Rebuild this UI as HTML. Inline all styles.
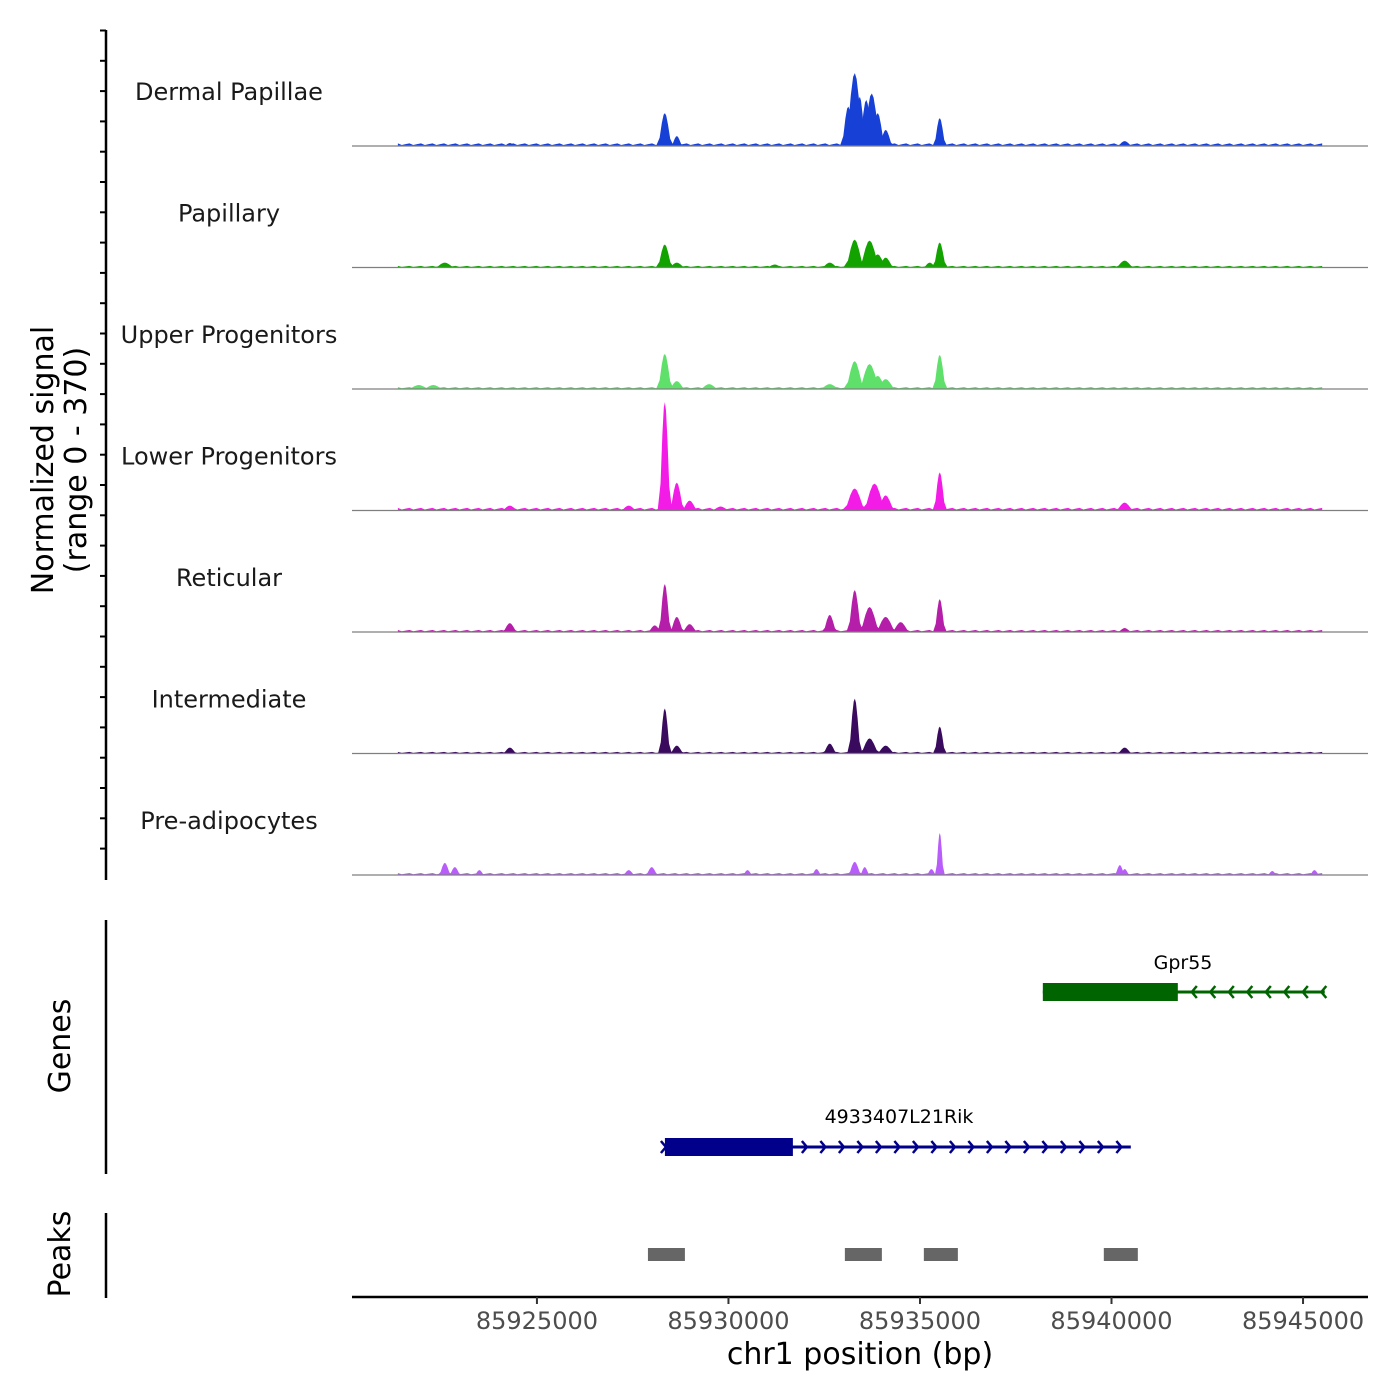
<!DOCTYPE html>
<html><head><meta charset="utf-8">
<style>
html,body{margin:0;padding:0;background:#fff;}
svg{display:block;font-family:"DejaVu Sans","Liberation Sans",sans-serif;}
</style></head>
<body>
<svg id="chart" width="1400" height="1400" viewBox="0 0 1400 1400" xmlns="http://www.w3.org/2000/svg">
<rect width="1400" height="1400" fill="#fff"/>
<g id="tracks"></g>
<g id="yaxis"></g>
<text transform="translate(53,460) rotate(-90)" text-anchor="middle" font-size="30" fill="#000">Normalized signal</text>
<text transform="translate(86,460) rotate(-90)" text-anchor="middle" font-size="30" fill="#000">(range 0 - 370)</text>
<line x1="106" y1="920" x2="106" y2="1174" stroke="#000" stroke-width="2.5"/>
<text transform="translate(70,1046) rotate(-90)" text-anchor="middle" font-size="30">Genes</text>
<g id="genes"></g>
<line x1="106" y1="1213" x2="106" y2="1298" stroke="#000" stroke-width="2.5"/>
<text transform="translate(70,1254) rotate(-90)" text-anchor="middle" font-size="30">Peaks</text>
<g id="peaks"></g>
<g id="xaxis"></g>
<text x="860" y="1364" text-anchor="middle" font-size="30">chr1 position (bp)</text>
</svg>
<script>
const trackNames = ["Dermal Papillae","Papillary","Upper Progenitors","Lower Progenitors","Reticular","Intermediate","Pre-adipocytes"];
const trackColors = ["#1640d6","#12a300","#5ee06a","#f21ce6","#b51ea8","#3a0a5e","#b85cfa"];
const peakPos = [
 [85928341,85928655,85933130,85933300,85933430,85933600,85933744,85933900,85934109,85935519,85940347,85924296],
 [85922599,85928341,85928655,85931212,85932648,85933300,85933690,85933900,85934109,85935258,85935519,85940347],
 [85921920,85922300,85928341,85928655,85929500,85932648,85933300,85933690,85933900,85934109,85935519],
 [85924296,85927400,85928341,85928655,85928990,85929800,85933300,85933820,85934109,85935519,85940347],
 [85924296,85928080,85928341,85928655,85928990,85932648,85933300,85933690,85934109,85934500,85935519,85940347],
 [85924296,85928341,85928655,85932648,85933300,85933690,85934109,85935519,85940347],
 [85922599,85922860,85923500,85927400,85928000,85930500,85932300,85933300,85933560,85935300,85935519,85940220,85940347,85944200,85945300]
];
const peakVals = [
 [100,30,120,222,150,140,160,100,49,85,15,9],
 [15,70,15,9,15,85,82,40,30,15,76,21],
 [12,12,107,24,15,15,85,76,40,30,104],
 [15,15,330,85,30,12,67,82,46,116,24],
 [27,20,146,46,24,52,128,76,46,30,100,12],
 [18,137,24,30,167,46,24,82,18],
 [37,24,15,15,24,15,18,40,24,18,128,30,18,12,15]
];
const peakWidth = [
 [230,180,220,300,200,230,300,230,220,190,230,180],
 [300,240,250,250,250,300,330,280,250,200,210,280],
 [340,320,230,250,280,300,300,340,280,300,200],
 [250,250,190,230,250,280,340,360,280,190,280],
 [230,220,190,220,240,220,220,320,320,280,180,220],
 [220,180,220,220,200,300,280,180,230],
 [190,180,150,180,190,150,150,210,150,150,130,160,150,150,150]
];
const bgLevel = [8,5,6,8,6,5,6];
const bgStart = 85921370, bgEnd = 85945500;
const peakStart = [85927898,85933039,85935101,85939799];
const peakEnd = [85928863,85934005,85935989,85940687];
const xTicks = [85925000,85930000,85935000,85940000,85945000];

const X0=352,X1=1368,BP0=85920172,BP1=85946696;
const xs = bp => X0+(bp-BP0)/(BP1-BP0)*(X1-X0);
const trackH=121.5, base0=146, maxV=370;
const ys = (i,v) => base0+i*trackH - v/maxV*trackH;
const NS="http://www.w3.org/2000/svg";
function mk(tag,attrs,parent){const e=document.createElementNS(NS,tag);for(const k in attrs)e.setAttribute(k,attrs[k]);parent.appendChild(e);return e;}

const tg=document.getElementById('tracks');
trackNames.forEach((name,i)=>{
  const g=mk('g',{},tg);
  
  
  const b=ys(i,0);
  let d='M'+xs(bgStart)+','+b;
  const step=(bgEnd-bgStart)/240;
  for(let k=0;k<=240;k++){
    const v=bgLevel[i]*((k%3===0)?1:(k%3===1?0.4:0.7));
    d+=' L'+xs(bgStart+k*step)+','+ys(i,v);
  }
  d+=' L'+xs(bgEnd)+','+b+' Z';
  const bg=mk('path',{d:d,fill:trackColors[i]},g);
  
  
  peakPos[i].forEach((p,j)=>{
    const h=peakVals[i][j], w=peakWidth[i][j];
    const pts=[[p-w,0],[p-w*0.6,h*0.25],[p-w*0.35,h*0.7],[p-w*0.15,h*0.95],[p,h],[p+w*0.15,h*0.92],[p+w*0.35,h*0.65],[p+w*0.6,h*0.22],[p+w,0]];
    const el=mk('polygon',{points:pts.map(q=>xs(q[0])+','+ys(i,q[1])).join(' '),fill:trackColors[i]},g);
    
    
  });
  const ln=mk('line',{x1:X0,x2:X1,y1:b,y2:b,stroke:'#7f7f7f','stroke-width':1.2},g);
  
  
  const t=mk('text',{x:229,y:b-46,'text-anchor':'middle','font-size':'24',fill:'#1a1a1a'},g);
  t.textContent=name;
  
  
});

const ya=document.getElementById('yaxis');
mk('line',{x1:106,x2:106,y1:30,y2:880,stroke:'#000','stroke-width':2.5},ya);
for(let y=30;y<=878;y+=30.3){
  const tk=mk('line',{x1:100,x2:106,y1:y+0.5,y2:y+0.5,stroke:'#000','stroke-width':2},ya);
  
  
}

const gg=document.getElementById('genes');
function gene(name,start,end,cStart,cEnd,y,color,dir,labelX,labelY){
  const g=mk('g',{},gg);
  
  
  mk('line',{x1:xs(start),x2:xs(end),y1:y,y2:y,stroke:color,'stroke-width':3},g);
  mk('rect',{x:xs(cStart),y:y-9,width:xs(cEnd)-xs(cStart),height:18,fill:color},g);
  for(let x=xs(cEnd)+14;x<=xs(end)+1;x+=18.5){
    const dx = dir>0?-5:5;
    mk('polyline',{points:(x+dx)+','+(y-6)+' '+x+','+y+' '+(x+dx)+','+(y+6),fill:'none',stroke:color,'stroke-width':2.5},g);
  }
  const t=mk('text',{x:labelX,y:labelY,'text-anchor':'middle','font-size':'19'},g);
  t.textContent=name;
}
gene('Gpr55',85938207,85945567,85938207,85941731,992,'#006400',-1,1183,969);
gene('4933407L21Rik',85928341,85940504,85928341,85931682,1147,'#00008b',1,899,1123);
mk('polyline',{points:(xs(85928341)-4)+',1141 '+(xs(85928341)+1)+',1147 '+(xs(85928341)-4)+',1153',fill:'none',stroke:'#00008b','stroke-width':2.5},gg);

const pg=document.getElementById('peaks');
peakStart.forEach((s,i)=>{
  const r=mk('rect',{x:xs(s),y:1248,width:xs(peakEnd[i])-xs(s),height:13,fill:'#666'},pg);
  
  
});

const xa=document.getElementById('xaxis');
mk('line',{x1:X0,x2:X1,y1:1297,y2:1297,stroke:'#000','stroke-width':2.5},xa);
xTicks.forEach(v=>{
  const x=xs(v);
  const tk=mk('line',{x1:x,x2:x,y1:1297,y2:1304,stroke:'#333','stroke-width':2},xa);
  
  
  const t=mk('text',{x:x,y:1329,'text-anchor':'middle','font-size':'24',fill:'#4d4d4d'},xa);
  t.textContent=v;
  
  
});
</script>
</body></html>
